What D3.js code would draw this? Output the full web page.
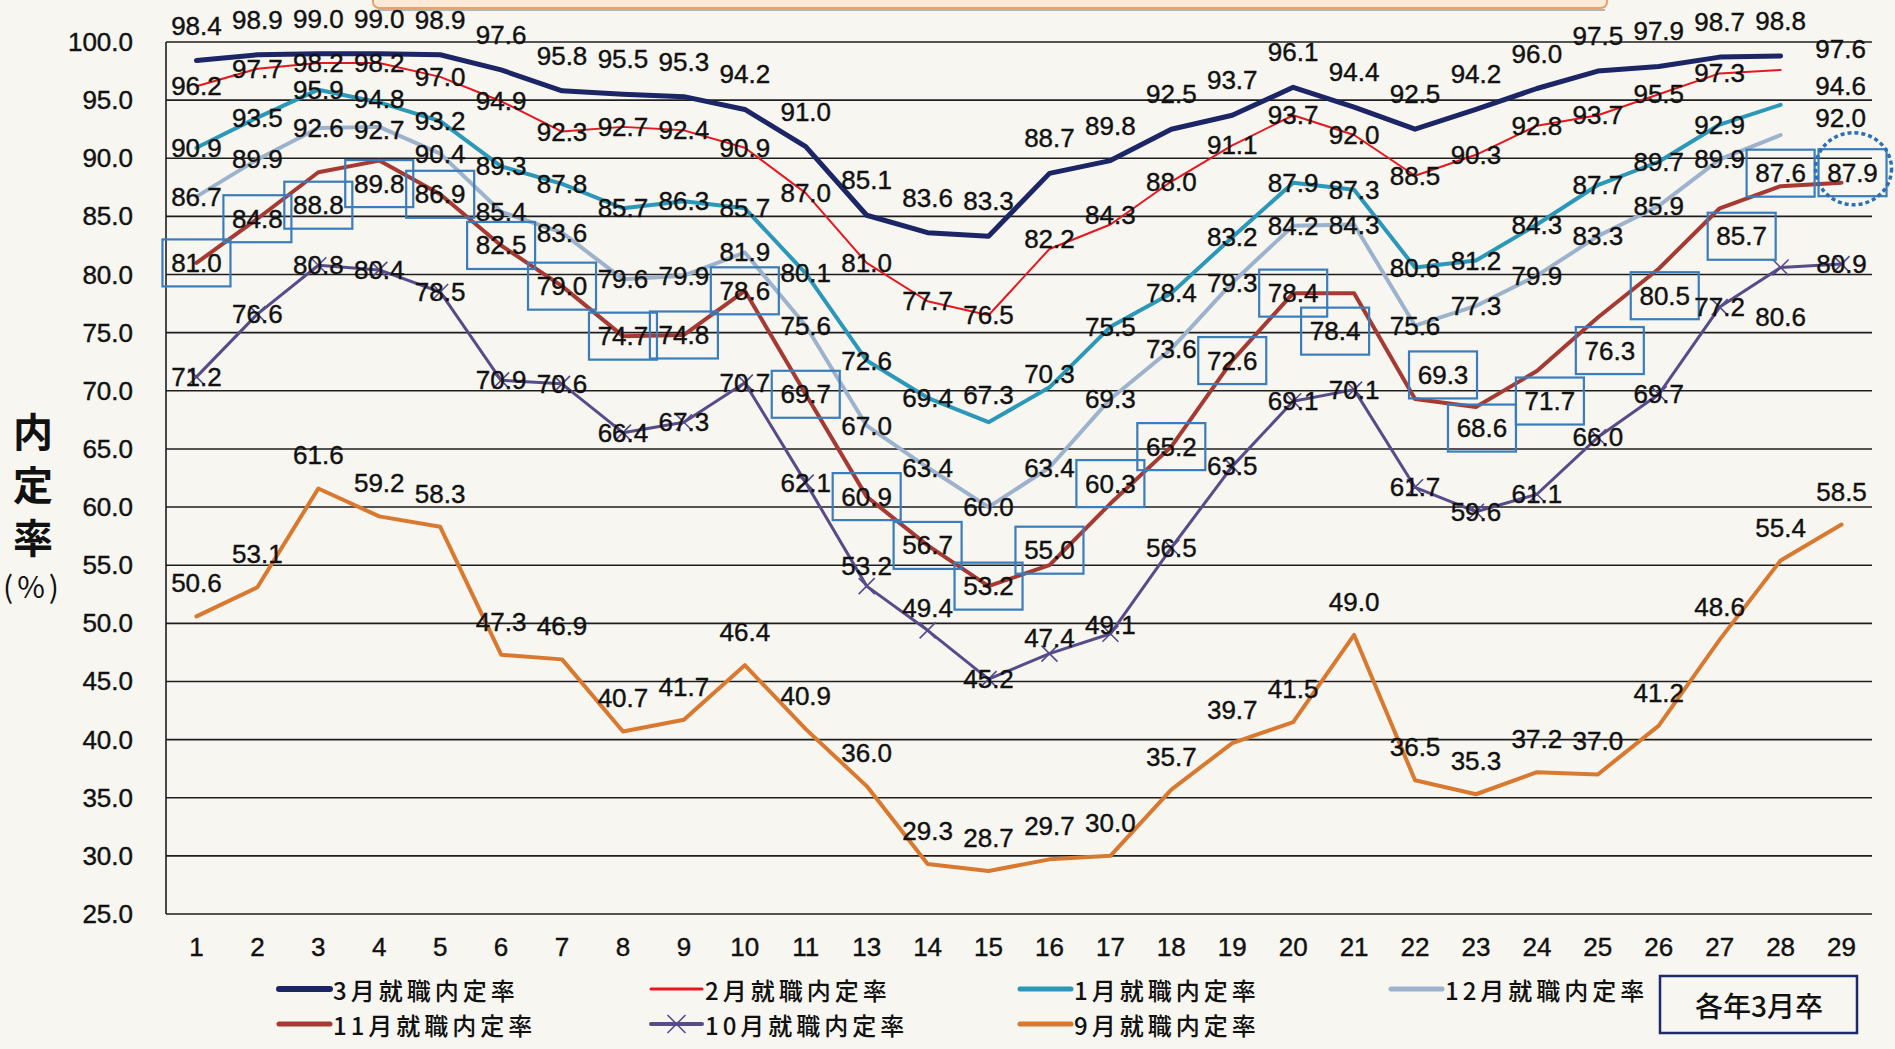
<!DOCTYPE html>
<html><head><meta charset="utf-8">
<script src="https://cdn.jsdelivr.net/npm/d3@7"></script>
<style>
html,body{margin:0;padding:0;background:#f7f6f0;}
svg{display:block;}
</style></head><body>
<svg id="chart" width="1895" height="1049"></svg>
<script>
// ---------------- data ----------------
const categories = ["1","2","3","4","5","6","7","8","9","10","11","13","14","15","16","17","18","19","20","21","22","23","24","25","26","27","28","29"];
const yTicks = [25,30,35,40,45,50,55,60,65,70,75,80,85,90,95,100];
const seriesNames = ["3月就職内定率","2月就職内定率","1月就職内定率","12月就職内定率","11月就職内定率","10月就職内定率","9月就職内定率"];
const rateMar = [98.4,98.9,99.0,99.0,98.9,97.6,95.8,95.5,95.3,94.2,91.0,85.1,83.6,83.3,88.7,89.8,92.5,93.7,96.1,94.4,92.5,94.2,96.0,97.5,97.9,98.7,98.8,null];
const rateFeb = [96.2,97.7,98.2,98.2,97.0,94.9,92.3,92.7,92.4,90.9,87.0,81.0,77.7,76.5,82.2,84.3,88.0,91.1,93.7,92.0,88.5,90.3,92.8,93.7,95.5,97.3,97.6,null];
const rateJan = [90.9,93.5,95.9,94.8,93.2,89.3,87.8,85.7,86.3,85.7,80.1,72.6,69.4,67.3,70.3,75.5,78.4,83.2,87.9,87.3,80.6,81.2,84.3,87.7,89.7,92.9,94.6,null];
const rateDec = [86.7,89.9,92.6,92.7,90.4,85.4,83.6,79.6,79.9,81.9,75.6,67.0,63.4,60.0,63.4,69.3,73.6,79.3,84.2,84.3,75.6,77.3,79.9,83.3,85.9,89.9,92.0,null];
const rateNov = [81.0,84.8,88.8,89.8,86.9,82.5,79.0,74.7,74.8,78.6,69.7,60.9,56.7,53.2,55.0,60.3,65.2,72.6,78.4,78.4,69.3,68.6,71.7,76.3,80.5,85.7,87.6,87.9];
const rateOct = [71.2,76.6,80.8,80.4,78.5,70.9,70.6,66.4,67.3,70.7,62.1,53.2,49.4,45.2,47.4,49.1,56.5,63.5,69.1,70.1,61.7,59.6,61.1,66.0,69.7,77.2,80.6,80.9];
const rateSep = [50.6,53.1,61.6,59.2,58.3,47.3,46.9,40.7,41.7,46.4,40.9,36.0,29.3,28.7,29.7,30.0,35.7,39.7,41.5,49.0,36.5,35.3,37.2,37.0,41.2,48.6,55.4,58.5];
const yAxisTitle = ["内","定","率","(%)"];
const noteText = "各年3月卒";

// ---------------- styles / layout ----------------
const seriesStyle = [
  {values: rateMar, color:"#1c2566", width:5,   labelDy:-35},
  {values: rateFeb, color:"#e8161f", width:2,   labelDy:0},
  {values: rateJan, color:"#2b98ba", width:4,   labelDy:0},
  {values: rateDec, color:"#9db3cd", width:4,   labelDy:0},
  {values: rateNov, color:"#a63a33", width:4,   labelDy:0, boxed:true},
  {values: rateOct, color:"#574c8a", width:3,   labelDy:0, marker:true},
  {values: rateSep, color:"#d9792f", width:4,   labelDy:-33}
];
// label nudges: [seriesIndex, category, dx, dy]
const labelNudges = [
  [1,"28",60,-21],[2,"28",60,-19],[3,"28",60,-17],
  [2,"4",0,-3],[3,"4",0,3],
  [2,"15",0,-27],[2,"16",0,-13],
  [4,"3",0,33],[4,"4",0,23],[4,"16",0,-15],[4,"17",0,-20],[4,"21",-19,38],[4,"22",28,-24],
  [4,"23",6,21],[4,"24",13,30],[4,"25",12,33],[4,"26",6,27],[4,"27",22,28],[4,"28",0,-13],[4,"29",11,-10],
  [5,"13",0,-20],[5,"14",0,-22],[5,"16",0,-16],[5,"17",0,-9],[5,"28",0,49],
  [1,"16",0,-10],[1,"17",0,-10]
];
const drawOrder = [6,5,3,2,4,1,0];
const legendCols = [279,651,1020,1391];
const legendRows = [989,1024];
const legendSlots = [[0,0],[1,0],[2,0],[3,0],[0,1],[1,1],[2,1]];

const W = 1895, H = 1049;
const svg = d3.select("#chart");
svg.append("rect").attr("width",W).attr("height",H).attr("fill","#f7f6f0");

// top cut-off title box
svg.append("rect").attr("x",373).attr("y",-30).attr("width",1234).attr("height",38).attr("rx",6)
  .attr("fill","#fde9d8").attr("stroke","#e8a06c").attr("stroke-width",2);
svg.append("line").attr("x1",378).attr("x2",1605).attr("y1",10).attr("y2",10)
  .attr("stroke","#9a9a9a").attr("stroke-width",2).attr("opacity",0.7);

const x = d3.scaleBand().domain(categories).range([166,1872]);
const cx = c => x(c) + x.bandwidth()/2;
const y = d3.scaleLinear().domain([25,100]).range([914,42]);

const FONT = "'Liberation Sans', Arial, sans-serif";
const CJK = "'Noto Sans CJK JP', 'Noto Sans CJK SC', sans-serif";

// gridlines
svg.append("g").selectAll("line").data(yTicks).join("line")
  .attr("x1",166).attr("x2",1872).attr("y1",d=>y(d)).attr("y2",d=>y(d))
  .attr("stroke","#1e1e1e").attr("stroke-width",1.6);
svg.append("line").attr("x1",166).attr("x2",166).attr("y1",y(100)).attr("y2",y(25))
  .attr("stroke","#1e1e1e").attr("stroke-width",1.6);

// y tick labels
svg.append("g").selectAll("text").data(yTicks).join("text")
  .attr("x",133).attr("y",d=>y(d)).attr("text-anchor","end").attr("dominant-baseline","central")
  .attr("font-family",FONT).attr("font-size",26).attr("fill","#111")
  .attr("stroke","#111").attr("stroke-width",0.4)
  .text(d=>d.toFixed(1));

// x tick labels
svg.append("g").selectAll("text").data(categories).join("text")
  .attr("x",d=>cx(d)).attr("y",947).attr("text-anchor","middle").attr("dominant-baseline","central")
  .attr("font-family",FONT).attr("font-size",26).attr("fill","#111")
  .attr("stroke","#111").attr("stroke-width",0.4)
  .text(d=>d);

// y axis title
const titleY = [430,483,536,585];
svg.append("g").selectAll("text").data(yAxisTitle).join("text")
  .attr("x",33).attr("y",(d,i)=>titleY[i]).attr("text-anchor","middle").attr("dominant-baseline","central")
  .attr("font-family",CJK).attr("font-size",(d,i)=>i<3?40:30).attr("letter-spacing",(d,i)=>i<3?0:4)
  .attr("font-weight",(d,i)=>i<3?700:400)
  .attr("fill","#111").text(d=>d);

// lines
const lineGen = d3.line().defined(d=>d.v!=null).x(d=>cx(d.c)).y(d=>y(d.v));
const seriesPts = seriesStyle.map(s => categories.map((c,i)=>({c, v:s.values[i]})));
const lineLayer = svg.append("g");
drawOrder.forEach(si=>{
  const s = seriesStyle[si];
  lineLayer.append("path").datum(seriesPts[si]).attr("d",lineGen)
    .attr("fill","none").attr("stroke",s.color).attr("stroke-width",s.width)
    .attr("stroke-linejoin","round").attr("stroke-linecap","round");
  if (s.marker) {
    lineLayer.append("g").selectAll("path").data(seriesPts[si].filter(d=>d.v!=null)).join("path")
      .attr("d",d=>{const px=cx(d.c), py=y(d.v), r=8; return `M${px-r},${py-r}L${px+r},${py+r}M${px-r},${py+r}L${px+r},${py-r}`;})
      .attr("stroke",s.color).attr("stroke-width",1.6).attr("fill","none");
  }
});

// labels
const nudge = (si,c) => { const n = labelNudges.find(a=>a[0]===si && a[1]===c); return n ? [n[2],n[3]] : [0,0]; };
const labelLayer = svg.append("g");
seriesStyle.forEach((s,si)=>{
  seriesPts[si].filter(d=>d.v!=null).forEach(d=>{
    const [ndx,ndy] = nudge(si,d.c);
    const lx = cx(d.c)+ndx, ly = y(d.v)+s.labelDy+ndy;
    if (s.boxed) {
      labelLayer.append("rect").attr("x",lx-34).attr("y",ly-23.5).attr("width",68).attr("height",47)
        .attr("fill","none").attr("stroke","#3b7dbc").attr("stroke-width",2.2);
    }
    labelLayer.append("text").attr("x",lx).attr("y",ly).attr("text-anchor","middle").attr("dominant-baseline","central")
      .attr("font-family",FONT).attr("font-size",26).attr("fill","#111")
      .attr("stroke","#111").attr("stroke-width",0.4).text(d.v.toFixed(1));
  });
});

// dotted highlight ellipse around latest value
const lastC = categories[categories.length-1];
svg.append("ellipse").attr("cx",cx(lastC)+12).attr("cy",y(rateNov[rateNov.length-1])-14).attr("rx",38).attr("ry",36)
  .attr("fill","none").attr("stroke","#2d6fb4").attr("stroke-width",3.5).attr("stroke-dasharray","4 3");

// legend
const lg = svg.append("g");
seriesStyle.forEach((s,si)=>{
  const [col,row] = legendSlots[si];
  const lx = legendCols[col], ly = legendRows[row];
  lg.append("line").attr("x1",lx).attr("x2",lx+51).attr("y1",ly).attr("y2",ly)
    .attr("stroke",s.color).attr("stroke-width",Math.max(s.width+1,3)).attr("stroke-linecap","round");
  if (s.marker) {
    const mx = lx+25.5, r=9;
    lg.append("path").attr("d",`M${mx-r},${ly-r}L${mx+r},${ly+r}M${mx-r},${ly+r}L${mx+r},${ly-r}`)
      .attr("stroke",s.color).attr("stroke-width",1.6);
  }
  lg.append("text").attr("x",lx+54).attr("y",ly).attr("dominant-baseline","central")
    .attr("font-family",CJK).attr("font-size",24).attr("letter-spacing",4).attr("fill","#111")
    .attr("font-weight",500)
    .text(seriesNames[si]);
});

// note box
svg.append("rect").attr("x",1660).attr("y",976).attr("width",197).attr("height",57)
  .attr("fill","none").attr("stroke","#1d2a6b").attr("stroke-width",2.5);
svg.append("text").attr("x",1759).attr("y",1005).attr("text-anchor","middle").attr("dominant-baseline","central")
  .attr("font-family",CJK).attr("font-size",28).attr("font-weight",500).attr("fill","#111").text(noteText);
</script>
</body></html>
